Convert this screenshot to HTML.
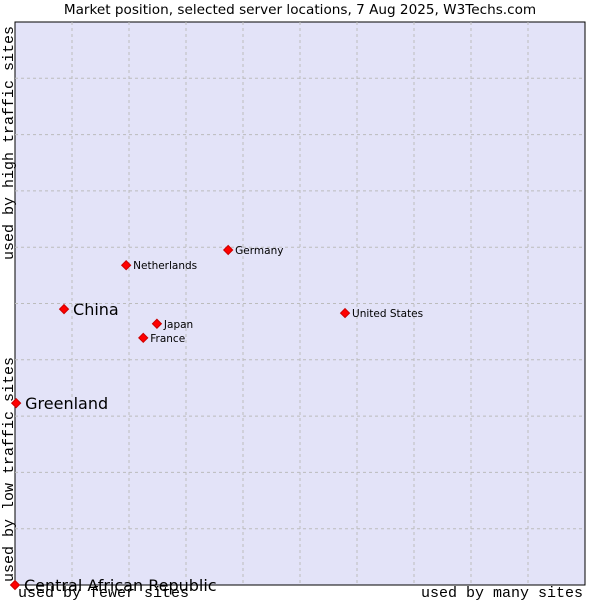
<!DOCTYPE html>
<html><head><meta charset="utf-8"><style>
body{margin:0;background:#fff;}
svg{display:block;}
</style></head><body>
<svg id="chart" width="600" height="600" xmlns="http://www.w3.org/2000/svg">
<text x="300" y="14" text-anchor="middle" font-family="DejaVu Sans, sans-serif" font-size="13.6" fill="#000">Market position, selected server locations, 7 Aug 2025, W3Techs.com</text>
<rect x="15" y="22" width="570" height="563" fill="#e3e3f8" stroke="#000" stroke-width="1"/>
<g id="grid"></g>
<g id="points"></g>
<text transform="translate(13,260) rotate(-90)" font-family="Liberation Mono, monospace" font-size="15" fill="#000">used by high traffic sites</text>
<text transform="translate(13,582) rotate(-90)" font-family="Liberation Mono, monospace" font-size="15" fill="#000">used by low traffic sites</text>
<text x="18" y="597" font-family="Liberation Mono, monospace" font-size="15" fill="#000">used by fewer sites</text>
<text x="583" y="597" text-anchor="end" font-family="Liberation Mono, monospace" font-size="15" fill="#000">used by many sites</text>
</svg>
<script>
const names = ["Central African Republic","Greenland","China","Netherlands","Germany","Japan","France","United States"];
const xValues = [0, 0.02, 0.86, 1.95, 3.74, 2.49, 2.25, 5.79];
const yValues = [0, 3.23, 4.9, 5.68, 5.95, 4.64, 4.39, 4.83];
const bigLabel = [true, true, true, false, false, false, false, false];
const NS = "http://www.w3.org/2000/svg";
const X0 = 15, X1 = 585, Y0 = 585, Y1 = 22;
function sx(v){ return X0 + v / 10 * (X1 - X0); }
function sy(v){ return Y0 - v / 10 * (Y0 - Y1); }
const grid = document.getElementById('grid');
for (let i = 1; i < 10; i++) {
  const v = document.createElementNS(NS, 'line');
  v.setAttribute('x1', sx(i)); v.setAttribute('x2', sx(i));
  v.setAttribute('y1', Y1); v.setAttribute('y2', Y0);
  v.setAttribute('stroke', '#bcbcbc'); v.setAttribute('stroke-dasharray', '3,3');
  
  
  grid.appendChild(v);
  const h = document.createElementNS(NS, 'line');
  h.setAttribute('x1', X0); h.setAttribute('x2', X1);
  h.setAttribute('y1', sy(i)); h.setAttribute('y2', sy(i));
  h.setAttribute('stroke', '#bcbcbc'); h.setAttribute('stroke-dasharray', '3,3');
  
  
  grid.appendChild(h);
}
const pts = document.getElementById('points');
for (let i = 0; i < names.length; i++) {
  const cx = sx(xValues[i]), cy = sy(yValues[i]);
  const d = document.createElementNS(NS, 'polygon');
  d.setAttribute('points', `${cx},${cy-4.5} ${cx+4.5},${cy} ${cx},${cy+4.5} ${cx-4.5},${cy}`);
  d.setAttribute('fill', '#ff0000');
  d.setAttribute('stroke', '#cc0000');
  
  
  pts.appendChild(d);
  const t = document.createElementNS(NS, 'text');
  const big = bigLabel[i];
  t.setAttribute('x', cx + (big ? 9 : 7));
  t.setAttribute('y', cy + (big ? 6 : 4));
  t.setAttribute('font-family', 'DejaVu Sans, sans-serif');
  t.setAttribute('font-size', big ? 16 : 10.5);
  t.setAttribute('fill', '#000');
  t.textContent = names[i];
  
  
  pts.appendChild(t);
}
</script>
</body></html>
